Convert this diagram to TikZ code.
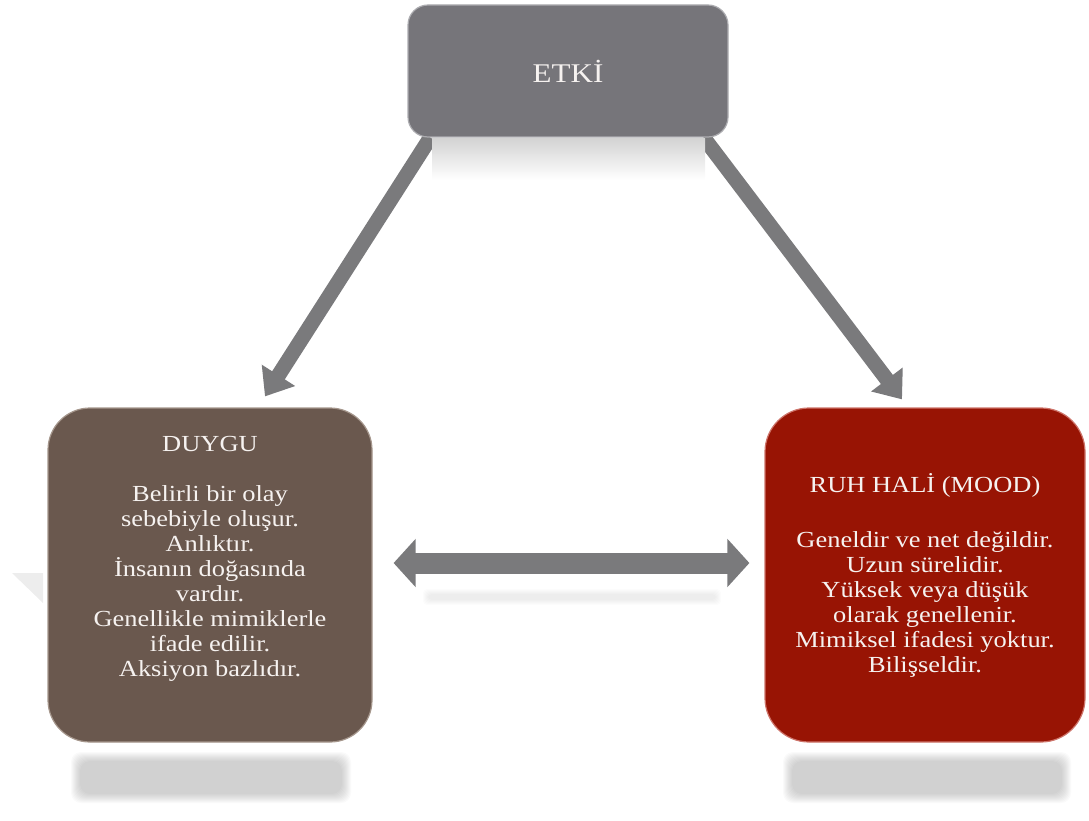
\documentclass[tikz,border=0pt]{standalone}
\usepackage{fontspec}
\setmainfont[FakeStretch=1.15]{Liberation Serif}
\usetikzlibrary{arrows.meta}
\pgfdeclarelayer{bg}
\pgfsetlayers{bg,main}
\definecolor{etkigray}{RGB}{118,117,122}
\definecolor{etkiedge}{RGB}{172,172,176}
\definecolor{duygubrown}{RGB}{106,88,78}
\definecolor{duyguedge}{RGB}{165,150,140}
\definecolor{ruhred}{RGB}{152,20,4}
\definecolor{ruhedge}{RGB}{205,115,105}
\definecolor{arrowgray}{RGB}{122,122,124}
\definecolor{cardtext}{RGB}{246,242,240}
\newcommand{\cardfont}{\fontsize{23}{25}\selectfont}
\begin{document}
\begin{tikzpicture}[x=1pt,y=-1pt,
  card/.style={rectangle, text=cardtext, align=center, inner sep=0pt, line width=1.2pt},
  softshade/.style={fill=black, opacity=0.018, rounded corners=10pt},
  bigarrow/.style={draw=arrowgray, line width=15pt, -{Triangle[width=38pt,length=25pt]}}]
\useasboundingbox (0,0) rectangle (1089,821);

\shade[top color=black!17, bottom color=white] (432,139) rectangle (705,180);
\foreach \k in {0,...,9}
  \fill[softshade] (80-\k,761-\k) rectangle (342+\k,794+\k);
\foreach \k in {0,...,9}
  \fill[softshade] (792-\k,761-\k) rectangle (1062+\k,794+\k);
\foreach \k in {0,...,5}
  \fill[softshade, opacity=0.012, rounded corners=4pt] (428-\k,594-\k) rectangle (716+\k,600+\k);
\fill[black!7] (12,573) -- (43,573) -- (43,603) -- cycle;

\node[card, fill=etkigray, draw=etkiedge, rounded corners=20pt, minimum width=320pt, minimum height=132pt, font=\fontsize{27}{30}\selectfont] (etki) at (568,71) {ETKİ};
\node[card, fill=duygubrown, draw=duyguedge, rounded corners=42pt, minimum width=324pt, minimum height=334pt, font=\cardfont] (duygu) at (210,575) {DUYGU\\[25pt]Belirli bir olay\\sebebiyle oluşur.\\Anlıktır.\\İnsanın doğasında\\vardır.\\Genellikle mimiklerle\\ifade edilir.\\Aksiyon bazlıdır.\\[12pt]};
\node[card, fill=ruhred, draw=ruhedge, rounded corners=44pt, minimum width=320pt, minimum height=334pt, font=\cardfont] (ruh) at (925,575) {RUH HALİ (MOOD)\\[30pt]Geneldir ve net değildir.\\Uzun sürelidir.\\Yüksek veya düşük\\olarak genellenir.\\Mimiksel ifadesi yoktur.\\Bilişseldir.};

\begin{pgfonlayer}{bg}
\draw[bigarrow] ([xshift=23pt]etki.south west) -- ([xshift=55pt,yshift=11pt]duygu.north);
\draw[bigarrow] ([xshift=-25pt]etki.south east) -- ([xshift=-23pt,yshift=8pt]ruh.north);
\draw[bigarrow, line width=21pt, {Triangle[width=47pt,length=22pt]}-{Triangle[width=47pt,length=22pt]}] ([xshift=21pt,yshift=12pt]duygu.east) -- ([xshift=-15pt,yshift=12pt]ruh.west);
\end{pgfonlayer}
\end{tikzpicture}
\end{document}
